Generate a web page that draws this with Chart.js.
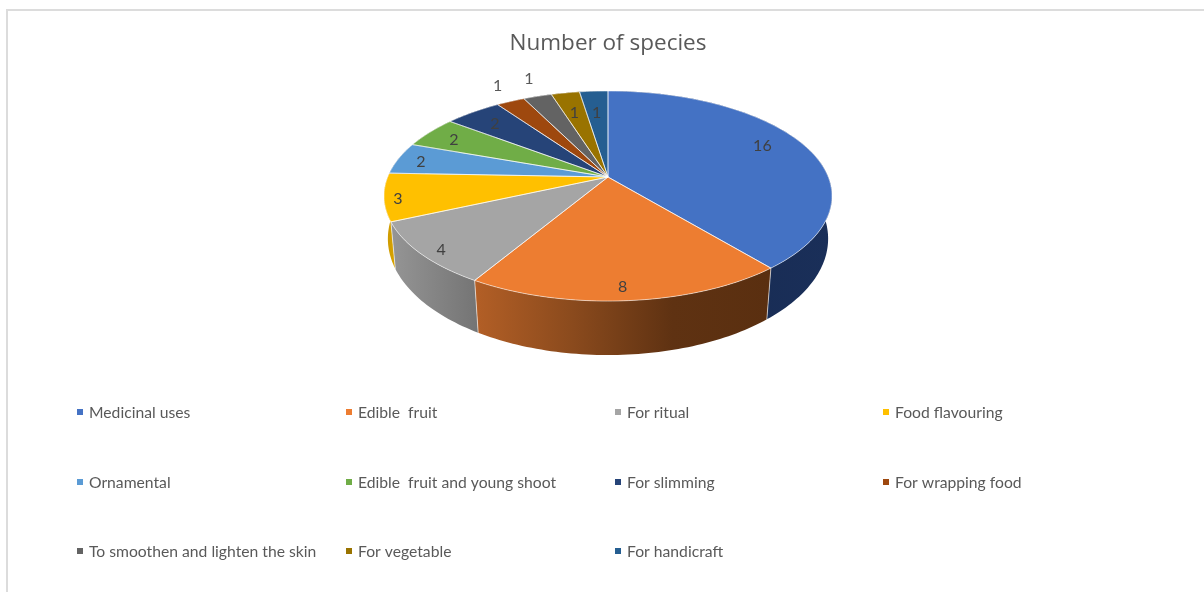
<!DOCTYPE html>
<html>
<head>
<meta charset="utf-8">
<title>Number of species</title>
<script src="https://cdn.jsdelivr.net/npm/chart.js@4/dist/chart.umd.min.js"></script>
<style>
  html, body { margin: 0; padding: 0; background: #fff; overflow: hidden; }
  #frame { position: absolute; left: 6px; top: 9px; right: -4px; bottom: -4px;
           border-left: 2px solid #dcdcdc; border-top: 2px solid #dcdcdc; }
  canvas { position: absolute; left: 0; top: 0; }
</style>
</head>
<body>
<div id="frame"></div>
<canvas id="chartUses" width="1204" height="592"></canvas>
<script>
// ── DATA ─────────────────────────────────────
const useLabels = [
  'Medicinal uses', 'Edible  fruit', 'For ritual', 'Food flavouring',
  'Ornamental', 'Edible  fruit and young shoot', 'For slimming', 'For wrapping food',
  'To smoothen and lighten the skin', 'For vegetable', 'For handicraft'
];
const speciesCounts = [16, 8, 4, 3, 2, 2, 2, 1, 1, 1, 1];

// ── STYLE ────────────────────────────────────
const faceColors = ['#4472C4', '#ED7D31', '#A5A5A5', '#FFC000', '#5B9BD5', '#70AD47',
                    '#264478', '#9E480E', '#636363', '#997300', '#255E91'];
const wallColors = [
  ['#16294f', '#1a2f59'],
  ['#b35f26', '#8a4a1d', '#5f3212', '#5a2f10'],
  ['#959595', '#747474'],
  ['#c99700', '#d9a400'],
  ['#37618a', '#37618a'], ['#47702c', '#47702c'], ['#17294a', '#17294a'],
  ['#5f2b08', '#5f2b08'], ['#3b3b3b', '#3b3b3b'], ['#5c4500', '#5c4500'], ['#163857', '#163857']
];
// value label offset from the middle of each slice's rim
const labelNudge = [[-41, 1], [-6, -14], [20, -4], [14, 2], [22, 4], [24, 8],
                    [22, 12], [-13, -16], [-8.5, -17], [9, 20], [3, 22]];

// tilted disc: front edge is closer, so it reads larger than the back
const RIM_X = 220.3, RIM_Y = 101.6, NEAR = 0.181;
const project = (arc, a) => {
  const w = 1 - NEAR * Math.sin(a);
  return { x: arc.x + RIM_X * Math.cos(a) / w, y: arc.y + RIM_Y * Math.sin(a) / w };
};
const lower = (arc, a) => {
  const p = project(arc, a);
  const shrink = 0.985 - 0.013 * Math.sin(a);
  return { x: arc.x + (p.x - arc.x) * shrink, y: p.y + 42 + 12 * Math.sin(a) };
};
const rimAngles = arc => {
  const n = Math.max(2, Math.ceil((arc.endAngle - arc.startAngle) / 0.02));
  return Array.from({ length: n + 1 }, (_, i) => arc.startAngle + (arc.endAngle - arc.startAngle) * i / n);
};

const pie3d = {
  id: 'pie3d',
  // the flat arcs are replaced by the projected disc below
  beforeDatasetDraw() { return false; },
  afterDatasetsDraw(chart) {
    const c = chart.ctx;
    const arcs = chart.getDatasetMeta(0).data;
    c.save();

    // side walls, back to front
    const order = arcs.map((arc, i) => i)
      .sort((p, q) => Math.sin((arcs[p].startAngle + arcs[p].endAngle) / 2) - Math.sin((arcs[q].startAngle + arcs[q].endAngle) / 2));
    order.forEach(i => {
      const arc = arcs[i];
      const angles = rimAngles(arc);
      const top = angles.map(a => project(arc, a));
      const bottom = angles.map(a => lower(arc, a));
      const xs = top.concat(bottom).map(p => p.x);
      const grad = c.createLinearGradient(Math.min(...xs), 0, Math.max(...xs), 0);
      wallColors[i].forEach((col, k) => grad.addColorStop(k / (wallColors[i].length - 1), col));
      c.beginPath();
      top.forEach((p, k) => k ? c.lineTo(p.x, p.y) : c.moveTo(p.x, p.y));
      bottom.reverse().forEach(p => c.lineTo(p.x, p.y));
      c.closePath();
      c.fillStyle = grad;
      c.fill();
    });

    // seams between the visible walls
    c.lineWidth = 1;
    c.strokeStyle = 'rgba(255,255,255,.6)';
    arcs.forEach(arc => {
      if (Math.sin(arc.startAngle) <= 0.1) return;
      const p = project(arc, arc.startAngle), q = lower(arc, arc.startAngle);
      c.beginPath(); c.moveTo(p.x, p.y); c.lineTo(q.x, q.y); c.stroke();
    });

    // top face
    arcs.forEach((arc, i) => {
      c.beginPath();
      c.moveTo(arc.x, arc.y);
      rimAngles(arc).forEach(a => { const p = project(arc, a); c.lineTo(p.x, p.y); });
      c.closePath();
      c.fillStyle = faceColors[i];
      c.fill();
    });
    c.strokeStyle = 'rgba(255,255,255,.55)';
    arcs.forEach(arc => {
      c.beginPath();
      c.moveTo(arc.x, arc.y);
      rimAngles(arc).forEach(a => { const p = project(arc, a); c.lineTo(p.x, p.y); });
      c.closePath();
      c.stroke();
    });

    // value labels
    c.font = '16px Lato, sans-serif';
    c.textAlign = 'center';
    c.textBaseline = 'middle';
    arcs.forEach((arc, i) => {
      const p = project(arc, (arc.startAngle + arc.endAngle) / 2);
      const outside = labelNudge[i][1] < -15.5;
      c.fillStyle = outside ? '#595959' : '#404040';
      c.fillText(String(speciesCounts[i]), p.x + labelNudge[i][0], p.y + labelNudge[i][1]);
    });
    c.restore();
  },
  // legend sits on a fixed 4-column grid
  afterDraw(chart) {
    const c = chart.ctx;
    const colX = [77, 346, 615, 883], rowY = [412, 482, 551];
    c.save();
    c.font = '15.7px Lato, sans-serif';
    c.textAlign = 'left';
    c.textBaseline = 'middle';
    chart.data.labels.forEach((label, i) => {
      const x = colX[i % 4], y = rowY[Math.floor(i / 4)];
      c.fillStyle = faceColors[i];
      c.fillRect(x, y - 3, 6, 6);
      c.fillStyle = '#595959';
      c.fillText(label, x + 12, y + 1);
    });
    c.restore();
  }
};

new Chart(document.getElementById('chartUses'), {
  type: 'pie',
  data: {
    labels: useLabels,
    datasets: [{ data: speciesCounts, backgroundColor: faceColors, borderWidth: 0 }]
  },
  options: {
    responsive: false,
    animation: false,
    events: [],
    layout: { padding: { left: 12, bottom: 298 } },
    plugins: {
      legend: { display: false },
      tooltip: { enabled: false },
      title: {
        display: true,
        text: 'Number of species',
        color: '#595959',
        font: { family: '"Open Sans", sans-serif', size: 22.5, weight: 'normal' },
        padding: { top: 30, bottom: 3 }
      }
    }
  },
  plugins: [pie3d]
});
</script>
</body>
</html>
